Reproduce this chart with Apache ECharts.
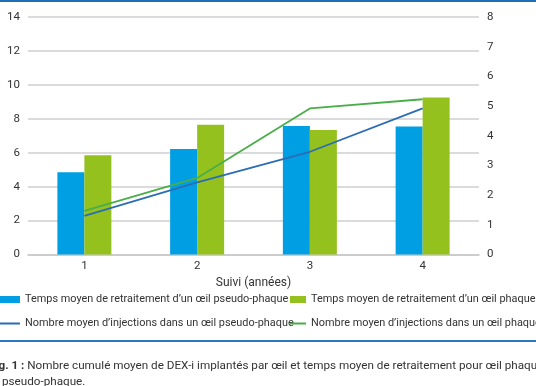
<!DOCTYPE html>
<html><head><meta charset="utf-8">
<script src="https://cdn.jsdelivr.net/npm/echarts@6/dist/echarts.min.js"></script>
<style>html,body{margin:0;padding:0;background:#fff;}#c{width:536px;height:386px;}</style>
</head><body><div id="c"></div>
<script>
const categories = ['1', '2', '3', '4'];
const leftTicks = [0, 2, 4, 6, 8, 10, 12, 14];
const rightTicks = [0, 1, 2, 3, 4, 5, 6, 7, 8];
const timePseudo = [4.85, 6.22, 7.58, 7.55];
const timePhaque = [5.85, 7.65, 7.34, 9.25];
const injPseudo = [1.30, 2.43, 3.46, 4.92];
const injPhaque = [1.47, 2.58, 4.92, 5.23];
const names = [
  "Temps moyen de retraitement d\u2019un \u0153il pseudo-phaque",
  "Temps moyen de retraitement d\u2019un \u0153il phaque",
  "Nombre moyen d\u2019injections dans un \u0153il pseudo-phaque",
  "Nombre moyen d\u2019injections dans un \u0153il phaque"
];
const FONT = 'Roboto';
function lineIcon(w) {
  return 'path://M0,0h0.01v0.01h-0.01Z M0,7h0.01v0.01h-0.01Z M0,2.6H' + w + 'V4.4H0Z';
}
const chart = echarts.init(document.getElementById('c'), null, {renderer: 'canvas'});
const txt = {color: '#333', fontFamily: FONT, fontSize: 11.5};
const legTxt = Object.assign({}, txt, {fontSize: 10.9});
chart.setOption({
  animation: false,
  textStyle: {fontFamily: FONT},
  grid: {left: 28, right: 57, top: 17, bottom: 131.5},
  xAxis: {
    type: 'category', data: categories,
    name: 'Suivi (ann\u00e9es)', nameLocation: 'middle', nameGap: 20,
    nameTextStyle: Object.assign({}, txt, {fontSize: 12}),
    axisLine: {lineStyle: {color: '#c8c8c8', width: 1.5}},
    axisTick: {show: false},
    axisLabel: Object.assign({}, txt, {margin: 6})
  },
  yAxis: [{
    type: 'value', min: leftTicks[0], max: leftTicks[leftTicks.length - 1], interval: 2,
    axisLine: {show: false}, axisTick: {show: false},
    axisLabel: Object.assign({}, txt, {margin: 8}),
    splitLine: {lineStyle: {color: '#cfcfcf', width: 1.5}}
  }, {
    type: 'value', min: rightTicks[0], max: rightTicks[rightTicks.length - 1], interval: 1,
    axisLine: {show: false}, axisTick: {show: false},
    axisLabel: Object.assign({}, txt, {margin: 8}),
    splitLine: {show: false}
  }],
  legend: [{
    orient: 'vertical', left: -16, top: 294, padding: 0, itemWidth: 36, itemHeight: 7, itemGap: 13,
    textStyle: legTxt,
    data: [{name: names[0], icon: 'rect'},
           {name: names[2], icon: lineIcon(36), itemStyle: {color: '#2b6db5', borderWidth: 0}}]
  }, {
    orient: 'vertical', left: 290, top: 294, padding: 0, itemWidth: 16, itemHeight: 7, itemGap: 13,
    textStyle: legTxt,
    data: [{name: names[1], icon: 'rect'},
           {name: names[3], icon: lineIcon(16), itemStyle: {color: '#4aae48', borderWidth: 0}}]
  }],
  series: [
    {name: names[0], type: 'bar', data: timePseudo, barWidth: 27, barGap: '0%', itemStyle: {color: '#009fe3'}},
    {name: names[1], type: 'bar', data: timePhaque, barWidth: 27, barGap: '0%', itemStyle: {color: '#95c11f'}},
    {name: names[2], type: 'line', yAxisIndex: 1, data: injPseudo, symbol: 'none', lineStyle: {color: '#2b6db5', width: 1.8}, itemStyle: {color: '#2b6db5'}},
    {name: names[3], type: 'line', yAxisIndex: 1, data: injPhaque, symbol: 'none', lineStyle: {color: '#4aae48', width: 1.8}, itemStyle: {color: '#4aae48'}}
  ],
  graphic: [
    {type: 'rect', left: 0, top: 0, shape: {width: 536, height: 2}, style: {fill: '#1f6db5'}},
    {type: 'rect', left: 0, top: 340, shape: {width: 536, height: 2}, style: {fill: '#2a78c2'}},
    {type: 'text', left: -11, top: 358, style: {
      text: '{b|Fig. 1 :} Nombre cumul\u00e9 moyen de DEX-i implant\u00e9s par \u0153il et temps moyen de retraitement pour \u0153il phaque\net pseudo-phaque.',
      fontFamily: FONT, fontSize: 11.7, fill: '#333', lineHeight: 16,
      rich: {b: {fontWeight: 'bold', fontFamily: FONT, fontSize: 11.7, fill: '#333'}}
    }}
  ]
});
</script></body></html>
